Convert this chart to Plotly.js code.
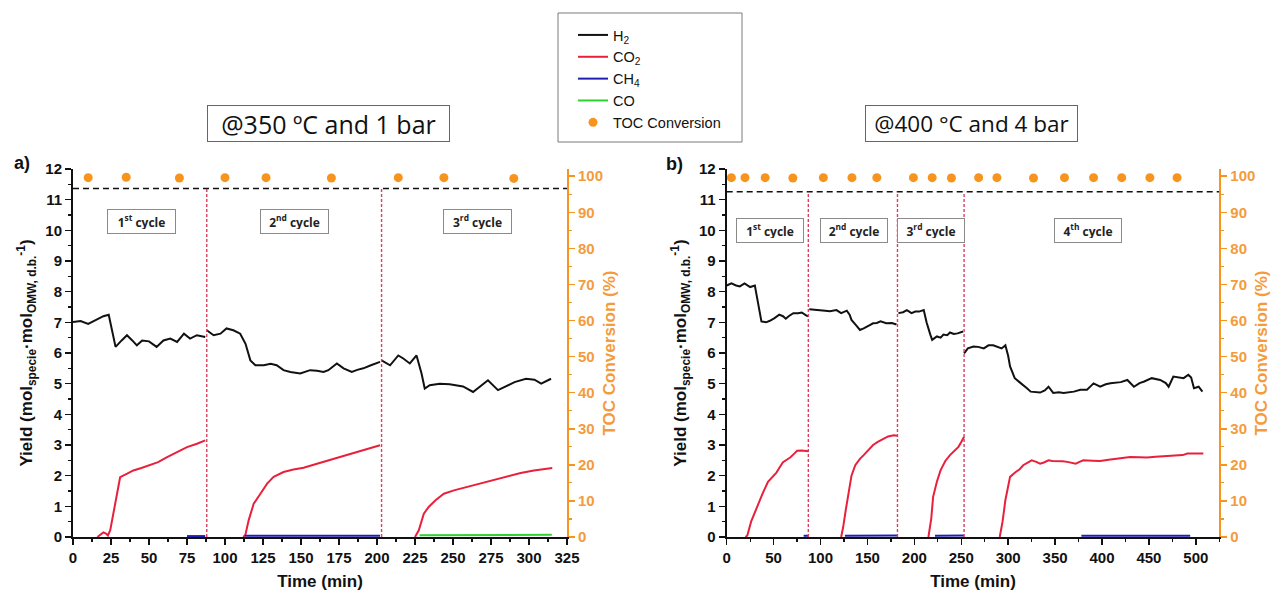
<!DOCTYPE html>
<html>
<head>
<meta charset="utf-8">
<script src="https://cdn.plot.ly/plotly-3.0.1.min.js"></script>
<style>
  html, body { margin: 0; padding: 0; background: #fff; }
  #chart { width: 1282px; height: 599px; }
</style>
</head>
<body>
<div id="chart"></div>
<script>
// ---------- a) 350 ºC, 1 bar ----------
const timeA_H2 = [0, 5, 10, 16, 20, 23.5, 26, 28, 32, 35.5, 39, 42, 45.5, 50, 55, 59.5, 64, 68.5, 73, 77, 81.5, 87, null,
  88, 92.5, 97, 101, 105.5, 110, 113.5, 116.7, 120, 125.5, 130, 134, 138.5, 143, 149.5, 156, 160.5, 164.8, 168, 173.6, 178, 183.4, 187, 191, 196, 202, null,
  203, 208.6, 214, 217.3, 221.6, 226, 229.3, 231.4, 234.7, 241.3, 247.8, 256.6, 263.2, 268.6, 273, 279.6, 285, 290.5, 298, 303.6, 308, 314.5];
const yieldA_H2 = [7.01, 7.04, 6.95, 7.1, 7.2, 7.25, 6.6, 6.2, 6.41, 6.58, 6.41, 6.25, 6.41, 6.38, 6.2, 6.41, 6.47, 6.36, 6.63, 6.47, 6.58, 6.52, null,
  6.74, 6.58, 6.63, 6.8, 6.74, 6.63, 6.3, 5.76, 5.6, 5.6, 5.65, 5.6, 5.44, 5.38, 5.33, 5.44, 5.42, 5.38, 5.44, 5.66, 5.5, 5.38, 5.45, 5.5, 5.6, 5.71, null,
  5.76, 5.6, 5.92, 5.82, 5.66, 5.92, 5.33, 4.84, 4.95, 5.0, 4.98, 4.91, 4.73, 4.95, 5.11, 4.79, 4.91, 5.05, 5.16, 5.13, 5.0, 5.16];

const timeA_CO2 = [16, 18, 20, 22, 23, 24.5, 27.8, 31, 35, 39.7, 45, 49.6, 56, 61.6, 68.4, 75, 81.6, 87, null,
  112, 113.4, 115.6, 118.9, 123.3, 127.7, 132, 138.5, 145, 151.7, 160.5, 171.4, 182.3, 193.3, 202, null,
  225, 227.5, 230.8, 234, 238.5, 244, 250.6, 259.4, 268, 276.9, 285.7, 294.5, 303.2, 315.3];
const yieldA_CO2 = [0, 0.08, 0.15, 0.1, 0.05, 0.22, 1.08, 1.95, 2.05, 2.17, 2.25, 2.33, 2.44, 2.6, 2.77, 2.93, 3.04, 3.15, null,
  0, 0.07, 0.55, 1.09, 1.41, 1.74, 1.96, 2.12, 2.2, 2.26, 2.39, 2.55, 2.72, 2.88, 2.99, null,
  0, 0.22, 0.76, 0.98, 1.2, 1.41, 1.52, 1.63, 1.74, 1.87, 1.96, 2.09, 2.17, 2.25];

const timeA_CH4 = [75, 87, null, 113, 150, 202];
const yieldA_CH4 = [0.03, 0.03, null, 0.04, 0.04, 0.04];

const timeA_CO = [228, 260, 315];
const yieldA_CO = [0.06, 0.07, 0.07];

const timeA_TOC = [10, 35, 70, 100, 127, 170, 214, 244, 290];
const convA_TOC = [99.6, 99.7, 99.5, 99.6, 99.6, 99.5, 99.6, 99.6, 99.4];

const cycleEndsA = [88, 203];
const cycleMidA = [45, 146, 266];
const cycleNamesA = ['1<sup>st</sup> cycle', '2<sup>nd</sup> cycle', '3<sup>rd</sup> cycle'];
const tocLevelA = 96.6;

// ---------- b) 400 °C, 4 bar ----------
const timeB_H2 = [0, 5, 10, 14, 19, 22, 25, 30, 32, 34, 37, 42, 46, 51, 56, 60, 63, 66, 71, 76, 80, 85, 87, null,
  88, 94, 99, 105, 110, 117, 122, 128, 131, 133, 138, 142, 146, 149, 153, 156, 160, 164, 170, 176, 181, null,
  183, 188, 192, 197, 201, 205, 210, 213, 217, 219, 224, 228, 231, 235, 238, 242, 246, 249, 252, null,
  253, 257, 263, 268, 274, 279, 284, 289, 293, 297, 300, 302, 307, 312, 316, 320, 324, 330, 334, 339, 343, 348, 354, 359, 365, 370,
  377, 384, 388, 391, 398, 404, 409, 415, 420, 427, 434, 440, 445, 453, 462, 468, 471, 476, 482, 487, 492, 495, 498, 503, 507];
const yieldB_H2 = [8.2, 8.27, 8.2, 8.17, 8.27, 8.2, 8.15, 8.2, 7.9, 7.5, 7.03, 7.0, 7.05, 7.14, 7.25, 7.2, 7.12, 7.2, 7.3, 7.3, 7.32, 7.22, 7.2, null,
  7.43, 7.42, 7.4, 7.38, 7.36, 7.4, 7.3, 7.38, 7.25, 7.08, 6.9, 6.75, 6.8, 6.86, 6.92, 6.97, 6.98, 7.03, 6.97, 6.98, 6.93, null,
  7.3, 7.33, 7.4, 7.3, 7.35, 7.35, 7.4, 7.0, 6.6, 6.43, 6.54, 6.5, 6.6, 6.58, 6.67, 6.62, 6.64, 6.68, 6.7, null,
  5.99, 6.15, 6.21, 6.2, 6.15, 6.25, 6.25, 6.2, 6.15, 6.25, 5.9, 5.56, 5.18, 5.05, 4.96, 4.85, 4.74, 4.72, 4.71, 4.78, 4.9, 4.7, 4.72, 4.7, 4.72, 4.74,
  4.8, 4.8, 4.92, 5.01, 4.9, 4.98, 5.01, 5.02, 5.05, 5.12, 4.9, 5.02, 5.07, 5.18, 5.12, 5.02, 4.9, 5.23, 5.2, 5.18, 5.29, 5.2, 4.85, 4.9, 4.74];

const timeB_CO2 = [20, 22, 26, 32, 38, 44, 49, 53, 57, 60, 64, 68, 72, 75, 80, 84, 87, null,
  122, 124, 127, 130, 133, 137, 142, 146, 151, 156, 161, 167, 172, 178, 182, null,
  215, 218, 220, 224, 228, 233, 238, 243, 247, 250, 253, null,
  291, 294, 297, 302, 308, 312, 316, 320, 325, 330, 334, 338, 343, 347, 352, 358, 363, 368, 372, 376, 380, 390, 398, 407, 416, 423,
  430, 440, 448, 457, 466, 474, 480, 486, 491, 500, 508];
const yieldB_CO2 = [0, 0.05, 0.5, 0.98, 1.4, 1.8, 1.95, 2.1, 2.3, 2.44, 2.52, 2.6, 2.72, 2.81, 2.82, 2.81, 2.8, null,
  0, 0.3, 0.9, 1.52, 2.0, 2.34, 2.55, 2.67, 2.85, 3.0, 3.1, 3.21, 3.28, 3.32, 3.3, null,
  0, 0.6, 1.31, 1.8, 2.18, 2.48, 2.67, 2.82, 2.94, 3.1, 3.27, null,
  0, 0.5, 1.2, 1.96, 2.12, 2.2, 2.34, 2.42, 2.5, 2.45, 2.39, 2.43, 2.5, 2.48, 2.48, 2.47, 2.45, 2.42, 2.39, 2.45, 2.5, 2.49, 2.48, 2.52, 2.56, 2.58,
  2.61, 2.6, 2.59, 2.62, 2.63, 2.64, 2.65, 2.67, 2.72, 2.72, 2.72];

const timeB_CH4 = [82, 87, null, 126, 150, 182, null, 222, 253, null, 378, 440, 494];
const yieldB_CH4 = [0.04, 0.04, null, 0.04, 0.05, 0.05, null, 0.04, 0.05, null, 0.04, 0.04, 0.04];

const timeB_TOC = [5, 19.5, 41, 70.5, 103, 133.5, 160, 199, 219, 239.5, 268.5, 288, 327, 360, 391, 421, 451, 480];
const convB_TOC = [99.6, 99.6, 99.6, 99.5, 99.6, 99.6, 99.6, 99.6, 99.6, 99.5, 99.6, 99.6, 99.5, 99.6, 99.6, 99.6, 99.6, 99.6];

const cycleEndsB = [87, 182, 253];
const cycleMidB = [46, 136, 217.5, 385];
const cycleNamesB = ['1<sup>st</sup> cycle', '2<sup>nd</sup> cycle', '3<sup>rd</sup> cycle', '4<sup>th</sup> cycle'];
const tocLevelB = 95.7;

// ---------- styling ----------
const INK = '#111111';
const ORANGE = '#F7941D';
const ORANGE_TXT = '#F49B3C';
const RED = '#E8203C';
const BLUE = '#1F1FB8';
const GREEN = '#2ED12E';
const CYCLE_LINE = '#D8405E';
const SANS = 'Liberation Sans, Arial, sans-serif';

function lineTrace(x, y, name, color, xa, ya, show) {
  return { x, y, name, type: 'scatter', mode: 'lines', xaxis: xa, yaxis: ya,
    line: { color, width: 2 }, connectgaps: false, showlegend: show, hoverinfo: 'skip' };
}
function tocTrace(x, y, xa, ya, show) {
  return { x, y, name: 'TOC Conversion', type: 'scatter', mode: 'markers', xaxis: xa, yaxis: ya,
    marker: { color: ORANGE, size: 9, symbol: 'circle' }, showlegend: show, hoverinfo: 'skip' };
}

const data = [
  lineTrace(timeA_H2, yieldA_H2, 'H<sub>2</sub>', INK, 'x', 'y', true),
  lineTrace(timeA_CO2, yieldA_CO2, 'CO<sub>2</sub>', RED, 'x', 'y', true),
  lineTrace(timeA_CH4, yieldA_CH4, 'CH<sub>4</sub>', BLUE, 'x', 'y', true),
  lineTrace(timeA_CO, yieldA_CO, 'CO', GREEN, 'x', 'y', true),
  tocTrace(timeA_TOC, convA_TOC, 'x', 'y2', true),
  lineTrace(timeB_H2, yieldB_H2, 'H<sub>2</sub>', INK, 'x2', 'y3', false),
  lineTrace(timeB_CO2, yieldB_CO2, 'CO<sub>2</sub>', RED, 'x2', 'y3', false),
  lineTrace(timeB_CH4, yieldB_CH4, 'CH<sub>4</sub>', BLUE, 'x2', 'y3', false),
  tocTrace(timeB_TOC, convB_TOC, 'x2', 'y4', false)
];

const W = 1282, H = 599;
const px = v => v / W;
const py = v => 1 - v / H;
const yDom = [py(537), py(169)];

const tickFont = { family: SANS, size: 15, color: INK, weight: 'bold' };
const titleFont = { family: SANS, size: 17, color: INK, weight: 'bold' };

function xAxis(domain, range, dtick, anchor) {
  return {
    domain, range, dtick, tick0: 0, anchor,
    showgrid: false, zeroline: false, showline: true, linecolor: INK, linewidth: 2,
    ticks: 'outside', ticklen: 6, tickwidth: 1.5, tickcolor: INK,
    minor: { dtick: dtick / 2, ticks: 'outside', ticklen: 3, tickwidth: 1.2, tickcolor: INK },
    tickfont: tickFont, layer: 'below traces',
    title: { text: 'Time (min)', font: titleFont, standoff: 10 }
  };
}
function yLeft(anchor) {
  return {
    domain: yDom, range: [0, 12], dtick: 1, tick0: 0, anchor,
    showgrid: false, zeroline: false, showline: true, linecolor: INK, linewidth: 2,
    ticks: 'outside', ticklen: 6, tickwidth: 1.5, tickcolor: INK,
    minor: { dtick: 0.5, ticks: 'outside', ticklen: 3, tickwidth: 1.2, tickcolor: INK },
    tickfont: tickFont, layer: 'below traces',
    title: { text: 'Yield (mol<sub>specie</sub>·mol<sub>OMW, d.b.</sub><sup>-1</sup>)', font: titleFont, standoff: 8 }
  };
}
function yRight(overlay, anchor) {
  return {
    overlaying: overlay, side: 'right', anchor, range: [0, 102], dtick: 10, tick0: 0,
    showgrid: false, zeroline: false, showline: true, linecolor: ORANGE, linewidth: 2,
    ticks: 'outside', ticklen: 6, tickwidth: 1.5, tickcolor: ORANGE,
    minor: { dtick: 5, ticks: 'outside', ticklen: 3, tickwidth: 1.2, tickcolor: ORANGE },
    tickfont: { family: SANS, size: 15, color: ORANGE_TXT, weight: 'bold' },
    title: { text: 'TOC Conversion (%)', font: { family: SANS, size: 17, color: ORANGE_TXT, weight: 'bold' }, standoff: 1 }
  };
}

const shapes = [];
const annotations = [];

function decoratePanel(xa, yLeftName, yRightName, ends, xMax, level, mids, names, yLabel, boxW) {
  shapes.push({ type: 'line', xref: xa, yref: yRightName, x0: 0, x1: xMax, y0: level, y1: level,
    line: { color: INK, width: 1.5, dash: '6px,4px' } });
  ends.forEach(t => shapes.push({ type: 'line', xref: xa, yref: yRightName, x0: t, x1: t, y0: 0, y1: level,
    line: { color: CYCLE_LINE, width: 1.4, dash: '3px,2px' } }));
  mids.forEach((t, i) => annotations.push({ xref: xa, yref: yLeftName, x: t, y: yLabel, text: names[i],
    xanchor: 'center', yanchor: 'middle', width: boxW, height: 15,
    showarrow: false, bgcolor: '#ffffff', bordercolor: '#8a8a8a', borderwidth: 1, borderpad: 4,
    font: { family: 'Open Sans, sans-serif', size: 12, color: '#222', weight: 'bold' } }));
}
decoratePanel('x', 'y', 'y2', cycleEndsA, 325, tocLevelA, cycleMidA, cycleNamesA, 10.3, 59);
decoratePanel('x2', 'y3', 'y4', cycleEndsB, 525, tocLevelB, cycleMidB, cycleNamesB, 10.0, 58);

// condition boxes
annotations.push({ xref: 'paper', yref: 'paper', x: px(328.5), y: py(123.5), xanchor: 'center', yanchor: 'middle',
  text: '@350 ºC and 1 bar', showarrow: false, bordercolor: '#666', borderwidth: 1, borderpad: 4,
  width: 233, height: 27, bgcolor: '#fff',
  font: { family: 'Open Sans, sans-serif', size: 25, color: INK } });
annotations.push({ xref: 'paper', yref: 'paper', x: px(971.5), y: py(123.5), xanchor: 'center', yanchor: 'middle',
  text: '@400 °C and 4 bar', showarrow: false, bordercolor: '#666', borderwidth: 1, borderpad: 4,
  width: 203, height: 27, bgcolor: '#fff',
  font: { family: 'Open Sans, sans-serif', size: 22.5, color: INK } });

// panel letters
annotations.push({ xref: 'paper', yref: 'paper', x: px(22), y: py(163), xanchor: 'center', yanchor: 'middle',
  text: 'a)', showarrow: false, font: { family: SANS, size: 18, color: INK, weight: 'bold' } });
annotations.push({ xref: 'paper', yref: 'paper', x: px(674), y: py(164), xanchor: 'center', yanchor: 'middle',
  text: 'b)', showarrow: false, font: { family: SANS, size: 18, color: INK, weight: 'bold' } });

// legend frame
shapes.push({ type: 'rect', xref: 'paper', yref: 'paper', x0: px(558), x1: px(742), y0: py(142), y1: py(13),
  line: { color: '#7a7a7a', width: 1 } });

const layout = {
  width: W, height: H, autosize: false,
  margin: { l: 0, r: 0, t: 0, b: 0 },
  paper_bgcolor: '#ffffff', plot_bgcolor: 'rgba(0,0,0,0)',
  showlegend: true,
  legend: { x: px(573), y: py(19), xanchor: 'left', yanchor: 'top', bgcolor: 'rgba(0,0,0,0)',
    borderwidth: 0, itemwidth: 30, font: { family: SANS, size: 14.5, color: INK } },
  xaxis: xAxis([px(73), px(567)], [0, 325], 25, 'y'),
  yaxis: yLeft('x'),
  yaxis2: yRight('y', 'x'),
  xaxis2: xAxis([px(726.7), px(1219.3)], [0, 525], 50, 'y3'),
  yaxis3: yLeft('x2'),
  yaxis4: yRight('y3', 'x2'),
  shapes, annotations
};

Plotly.newPlot('chart', data, layout, { staticPlot: true, displayModeBar: false });
</script>
</body>
</html>
